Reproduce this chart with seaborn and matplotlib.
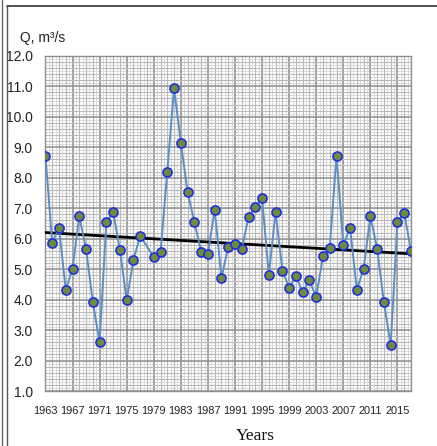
import numpy as np
import matplotlib
matplotlib.use("Agg")
import matplotlib.pyplot as plt
from matplotlib.lines import Line2D
from matplotlib.ticker import MultipleLocator, FormatStrFormatter
import seaborn as sns

# annual discharge, 1978 missing in the source chart
years = [1963, 1964, 1965, 1966, 1967, 1968, 1969, 1970, 1971, 1972,
         1973, 1974, 1975, 1976, 1977, 1979, 1980, 1981, 1982, 1983,
         1984, 1985, 1986, 1987, 1988, 1989, 1990, 1991, 1992, 1993,
         1994, 1995, 1996, 1997, 1998, 1999, 2000, 2001, 2002, 2003,
         2004, 2005, 2006, 2007, 2008, 2009, 2010, 2011, 2012, 2013,
         2014, 2015, 2016, 2017]
q = [8.72, 5.85, 6.36, 4.32, 5.01, 6.73, 5.66, 3.91, 2.60, 6.55,
     6.87, 5.63, 3.97, 5.30, 6.10, 5.39, 5.55, 8.20, 10.94, 9.15,
     7.52, 6.55, 5.57, 5.51, 6.94, 4.71, 5.74, 5.82, 5.65, 6.71,
     7.04, 7.33, 4.81, 6.87, 4.95, 4.39, 4.78, 4.24, 4.64, 4.07,
     5.44, 5.70, 8.72, 5.78, 6.36, 4.32, 5.01, 6.74, 5.66, 3.91,
     2.50, 6.55, 6.84, 5.60]
xticks = [1963, 1967, 1971, 1975, 1979, 1983, 1987, 1991, 1995, 1999,
          2003, 2007, 2011, 2015]

sns.set_style("white")
plt.rcParams['font.family'] = ['Liberation Sans', 'DejaVu Sans']

fig = plt.figure(figsize=(4.37, 4.46), dpi=100)
ax = fig.add_axes([0.104, 0.1233, 0.8365, 0.7517])

# background grid: fine, minor, major
for x in np.arange(1963, 2017.01, 0.5):
    ax.axvline(x, color='#dcdcdc', lw=0.7, zorder=0)
for y in np.arange(1, 12.01, 0.1):
    ax.axhline(y, color='#dcdcdc', lw=0.7, zorder=0)
ax.xaxis.set_minor_locator(MultipleLocator(1))
ax.yaxis.set_minor_locator(MultipleLocator(0.2))
ax.grid(which='minor', color='#b9b9b9', lw=0.8, zorder=0.5)
ax.grid(which='major', color='#909090', lw=1.1, zorder=0.6)
ax.set_axisbelow(True)

sns.regplot(x=years, y=q, ax=ax, scatter=False, ci=None, color='black',
            line_kws={'lw': 2, 'zorder': 2.8})
sns.lineplot(x=years, y=q, ax=ax, color='#5b8ec6', lw=1.4, marker='o',
             markersize=6.5, markerfacecolor='#6e8b3d', markeredgecolor='#1f2fe0',
             markeredgewidth=1.2, zorder=3)

ax.set_xlim(1963, 2017)
ax.set_ylim(1, 12)
ax.set_xticks(xticks)
ax.set_xticklabels([str(t) for t in xticks], fontsize=7.9, color='#222')
ax.yaxis.set_major_locator(MultipleLocator(1))
ax.yaxis.set_major_formatter(FormatStrFormatter('%.1f'))
for lab in ax.get_yticklabels():
    lab.set_fontsize(10)
    lab.set_color('#222')
ax.tick_params(which='major', length=4, color='#888', direction='out')
ax.tick_params(axis='y', pad=5)
ax.tick_params(axis='x', pad=7)
ax.tick_params(which='minor', length=0)
for s in ax.spines.values():
    s.set_color('#909090')
    s.set_linewidth(1)
ax.set_xlabel('')
ax.set_ylabel('')

fig.text(0.046, 0.906, 'Q, m³/s', fontsize=10, color='#222')
fig.text(0.584, 0.022, 'Years', fontsize=12.5, family='Liberation Serif',
         ha='center', va='center', color='#111')

# frame around the figure
fig.add_artist(Line2D([6.7 / 437, 1], [1 - 6 / 446] * 2, transform=fig.transFigure,
                      color='#333', lw=1.2))
fig.add_artist(Line2D([6.7 / 437] * 2, [0, 1 - 6 / 446], transform=fig.transFigure,
                      color='#555', lw=1))
fig.add_artist(Line2D([2 / 437] * 2, [0, 1], transform=fig.transFigure,
                      color='#666', lw=1))

fig.savefig('out.png', dpi=100)
